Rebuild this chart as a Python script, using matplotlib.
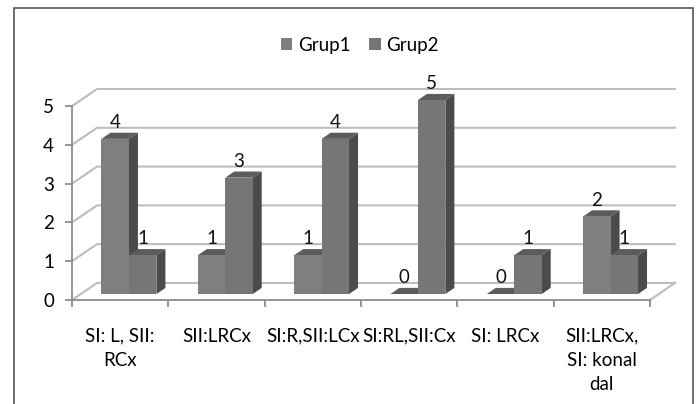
import matplotlib.pyplot as plt
from matplotlib.patches import Polygon, Patch, Rectangle
import numpy as np

categories = ["SI: L, SII:\nRCx", "SII:LRCx", "SI:R,SII:LCx", "SI:RL,SII:Cx",
              "SI: LRCx", "SII:LRCx,\nSI: konal\ndal"]
grup1 = [4, 1, 1, 0, 0, 2]
grup2 = [1, 3, 4, 5, 1, 1]
series_names = ["Grup1", "Grup2"]
yticks = [0, 1, 2, 3, 4, 5]

plt.rcParams['font.family'] = ['Lato', 'DejaVu Sans']
FS = 13.5

# oblique depth of the floor / back wall, in data units
DX, DY = 0.26, 0.44
# where the bars sit in depth and how deep they are (fraction of floor depth)
D0, BD = 0.35, 0.36
W = 0.285

front = {"Grup1": "#7f7f7f", "Grup2": "#767676"}
side = "#4b4b4b"
top = "#5c5c5c"
grid_c = "#bdbdbd"
axis_c = "#8c8c8c"

fig = plt.figure(figsize=(6.96, 4.04), dpi=100)
W_PX, H_PX = 696, 404
x0, x1 = 72, 650 + 25
y0, y1 = 300, 89
ax = fig.add_axes([x0 / W_PX, 1 - y0 / H_PX, (x1 - x0) / W_PX, (y0 - y1) / H_PX])
ax.set_xlim(0, len(categories) + DX)
ax.set_ylim(0, yticks[-1] + DY)

# back wall gridlines
n = len(categories)
for v in yticks:
    ax.plot([0, DX, n + DX], [v, v + DY, v + DY], color=grid_c, lw=1.5,
            clip_on=False, zorder=1)
ax.plot([n, n + DX], [0, DY], color=grid_c, lw=1.5, clip_on=False, zorder=1)


def bar3d(xl, h, color):
    sx, sy = D0 * DX, D0 * DY
    bx, by = BD * DX, BD * DY
    xa, xb = xl + sx, xl + W + sx
    ya, yb = sy, sy + h
    ax.add_patch(Polygon([(xb, ya), (xb + bx, ya + by), (xb + bx, yb + by), (xb, yb)],
                         closed=True, fc=side, ec="none", zorder=3, clip_on=False))
    ax.add_patch(Polygon([(xa, yb), (xa + bx, yb + by), (xb + bx, yb + by), (xb, yb)],
                         closed=True, fc=top, ec="none", zorder=3, clip_on=False))
    if h > 0:
        ax.add_patch(Rectangle((xa, ya), W, h, fc=color, ec="none", zorder=3,
                               clip_on=False))
    ax.text((xa + xb) / 2, yb + 0.42, f"{h}", ha="center", va="center",
            fontsize=FS, color="#111111", zorder=5)


for i in range(n):
    bar3d(i + 0.5 - W, grup1[i], front["Grup1"])
    bar3d(i + 0.5, grup2[i], front["Grup2"])

for s in ["top", "right"]:
    ax.spines[s].set_visible(False)
ax.spines["left"].set_bounds(0, yticks[-1])
ax.spines["bottom"].set_bounds(0, n)
for s in ["left", "bottom"]:
    ax.spines[s].set_color(axis_c)
    ax.spines[s].set_linewidth(1.3)

ax.set_yticks(yticks)
ax.set_yticklabels([str(v) for v in yticks], fontsize=FS)
ax.set_xticks(np.arange(n + 1))
ax.set_xticklabels([])
ax.set_xticks(np.arange(n) + 0.5, minor=True)
ax.set_xticklabels(categories, minor=True, fontsize=FS, linespacing=1.5)
ax.tick_params(axis="x", which="major", length=5, color=axis_c, width=1.3)
ax.tick_params(axis="x", which="minor", length=0, pad=20)
ax.tick_params(axis="y", length=5, color=axis_c, width=1.3, pad=8)
ax.patch.set_visible(False)

handles = [Patch(fc=front[s], ec="none") for s in series_names]
fig.legend(handles, series_names, loc="center", bbox_to_anchor=(360 / W_PX, 1 - 45 / H_PX),
           ncol=2, frameon=False, fontsize=FS, handlelength=0.6, handleheight=0.6,
           handletextpad=0.3, columnspacing=1.0)

# outer chart border
fig.patches.append(Rectangle((14 / W_PX, -0.05), (693 - 14) / W_PX, 1.05 - 8 / H_PX,
                             transform=fig.transFigure, fill=False, ec="#555555",
                             lw=1.2))

fig.savefig("out.png", dpi=100)
